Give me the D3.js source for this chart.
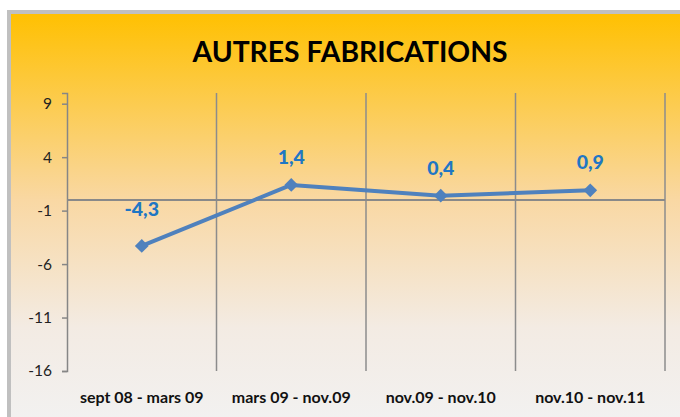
<!DOCTYPE html>
<html lang="fr">
<head>
<meta charset="UTF-8">
<title>Autres fabrications</title>
<style>
  * { margin: 0; padding: 0; }
  body { background: #fff; width: 680px; height: 417px; overflow: hidden; }
  svg { display: block; font-family: Lato, "Open Sans", sans-serif; }
</style>
</head>
<body>
<div id="container"></div>
<script src="https://cdn.jsdelivr.net/npm/d3@7/dist/d3.min.js"></script>
<script>
"use strict";

// data
var periods = ["sept 08 - mars 09", "mars 09 - nov.09", "nov.09 - nov.10", "nov.10 - nov.11"];
var values = [-4.3, 1.4, 0.4, 0.9];
var labels = ["-4,3", "1,4", "0,4", "0,9"];
var yTicks = [-16, -11, -6, -1, 4, 9];
var title = "AUTRES FABRICATIONS";

(function () {
    var width = 680, height = 417;

    var svg = d3.select("#container").append("svg")
        .attr("width", width)
        .attr("height", height);

    // background gradient gold -> light grey
    var grad = svg.append("defs").append("linearGradient")
        .attr("id", "bg").attr("x1", 0).attr("y1", 0).attr("x2", 0).attr("y2", 1);
    grad.append("stop").attr("offset", "0%").attr("stop-color", "#ffc000");
    grad.append("stop").attr("offset", "45%").attr("stop-color", "#f9d8a4");
    grad.append("stop").attr("offset", "75%").attr("stop-color", "#f3ebe3");
    grad.append("stop").attr("offset", "100%").attr("stop-color", "#f2f2f2");

    svg.append("rect")
        .attr("x", 9).attr("y", 12)
        .attr("width", 700).attr("height", 420)
        .attr("fill", "url(#bg)")
        .attr("stroke", "#c0c0c0")
        .attr("stroke-width", 4);

    svg.append("text")
        .attr("x", 350).attr("y", 62)
        .attr("text-anchor", "middle")
        .attr("font-size", 29)
        .attr("font-weight", 700)
        .attr("textLength", 315)
        .attr("lengthAdjust", "spacingAndGlyphs")
        .attr("fill", "#000")
        .text(title);

    var x = d3.scaleBand().domain(periods).range([67, 665]);
    var y = d3.scaleLinear().domain([-16, 10]).range([371, 93]);

    // vertical gridlines at category boundaries
    var bounds = periods.map(function (d) { return x(d); }).concat([x.range()[1]]);
    svg.append("g").selectAll("line")
        .data(bounds.slice(1))
        .enter().append("line")
        .attr("x1", function (d) { return d; })
        .attr("x2", function (d) { return d; })
        .attr("y1", y(10)).attr("y2", y(-16))
        .attr("stroke", "#8c8c8c")
        .attr("stroke-width", 1.5);

    // value axis
    var yAxis = svg.append("g")
        .attr("transform", "translate(67,0)")
        .call(d3.axisLeft(y).tickValues(yTicks).tickSize(5).tickPadding(10)
            .tickFormat(function (d) { return String(d); }));
    yAxis.select(".domain").attr("stroke", "#868686").attr("stroke-width", 1.5);
    yAxis.selectAll(".tick line").attr("stroke", "#868686").attr("stroke-width", 1.5);
    yAxis.selectAll(".tick text")
        .attr("font-size", 15.5).attr("font-family", "Lato, sans-serif")
        .attr("fill", "#222");

    // category axis crosses at zero
    svg.append("line")
        .attr("x1", 67).attr("x2", 665)
        .attr("y1", y(0)).attr("y2", y(0))
        .attr("stroke", "#898989")
        .attr("stroke-width", 2);

    svg.append("g").selectAll("text")
        .data(periods)
        .enter().append("text")
        .attr("x", function (d) { return x(d) + x.bandwidth() / 2; })
        .attr("y", 403)
        .attr("text-anchor", "middle")
        .attr("font-size", 16)
        .attr("font-weight", 700)
        .attr("fill", "#111")
        .text(function (d) { return d; });

    var pts = periods.map(function (p, i) {
        return { cx: x(p) + x.bandwidth() / 2, cy: y(values[i]), lab: labels[i] };
    });

    svg.append("path")
        .datum(pts)
        .attr("fill", "none")
        .attr("stroke", "#4f81bd")
        .attr("stroke-width", 4)
        .attr("stroke-linejoin", "round")
        .attr("d", d3.line().x(function (d) { return d.cx; }).y(function (d) { return d.cy; }));

    svg.append("g").selectAll("path")
        .data(pts)
        .enter().append("path")
        .attr("d", d3.symbol().type(d3.symbolSquare).size(95))
        .attr("transform", function (d) { return "translate(" + d.cx + "," + d.cy + ") rotate(45)"; })
        .attr("fill", "#4f81bd");

    svg.append("g").selectAll("text")
        .data(pts)
        .enter().append("text")
        .attr("x", function (d) { return d.cx; })
        .attr("y", function (d, i) { return d.cy - (i === 0 ? 30 : 21); })
        .attr("text-anchor", "middle")
        .attr("font-size", 19.5)
        .attr("font-weight", 900)
        .attr("fill", "#1f77c4")
        .text(function (d) { return d.lab; });
})();
</script>
</body>
</html>
